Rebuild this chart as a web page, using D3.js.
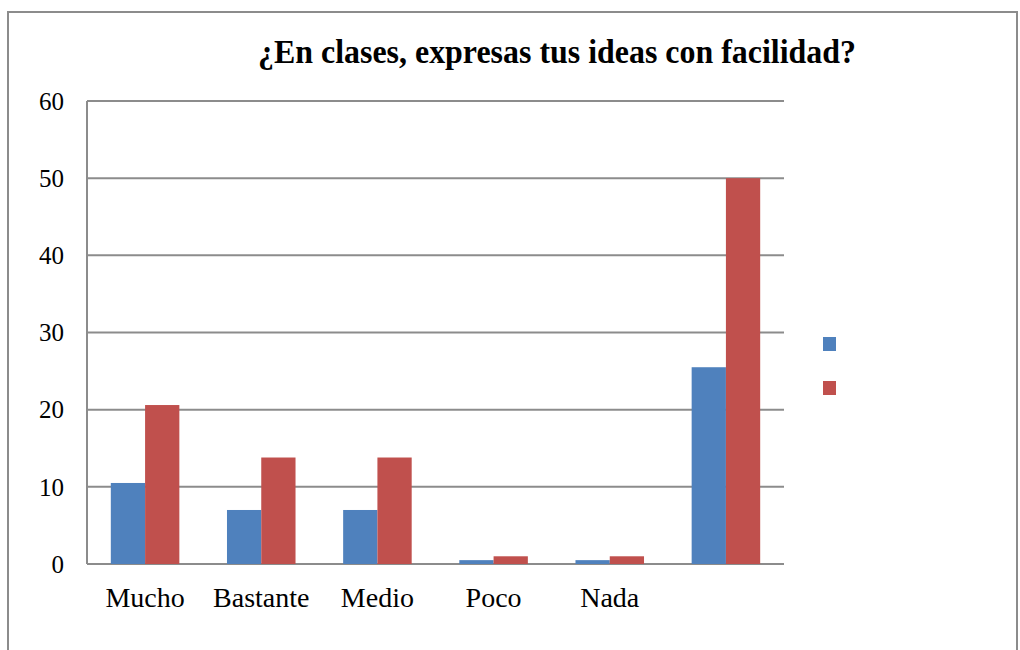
<!DOCTYPE html>
<html>
<head>
<meta charset="utf-8">
<script src="https://cdn.jsdelivr.net/npm/d3@7"></script>
<style>
  body { margin: 0; background: #fff; }
  text { font-family: "Liberation Serif", "Times New Roman", serif; fill: #000; }
</style>
</head>
<body>
<svg id="main" width="1020" height="650"></svg>
<script>
const width = 1020
const height = 650

const title = '¿En clases, expresas tus ideas con facilidad?'
const categories = ['Mucho', 'Bastante', 'Medio', 'Poco', 'Nada', '']
const seriesNames = ['', '']
const seriesA = [10.5, 7, 7, 0.5, 0.5, 25.5]
const seriesB = [20.6, 13.8, 13.8, 1, 1, 50]
const yTicks = [0, 10, 20, 30, 40, 50, 60]

const colors = ['#4f81bd', '#c0504d']

const svg = d3.select('#main')

// outer frame
svg.append('rect')
  .attr('x', 8).attr('y', 12)
  .attr('width', 1009).attr('height', 700)
  .attr('fill', 'none')
  .attr('stroke', '#8c8c8c')
  .attr('stroke-width', 2)

const margin = {left: 87, top: 101, right: 784, bottom: 564}

const x = d3.scaleBand()
  .domain(categories.map((d, i) => i))
  .range([margin.left, margin.right])
  .paddingInner(0.41)
  .paddingOuter(0.205)

const xSub = d3.scaleBand()
  .domain([0, 1])
  .range([0, x.bandwidth()])

const y = d3.scaleLinear()
  .domain([0, 60])
  .range([margin.bottom, margin.top])

// gridlines
svg.append('g')
  .selectAll('line')
  .data(yTicks)
  .join('line')
  .attr('x1', margin.left)
  .attr('x2', margin.right)
  .attr('y1', d => y(d))
  .attr('y2', d => y(d))
  .attr('stroke', '#8c8c8c')
  .attr('stroke-width', 2)

// y axis labels
svg.append('g')
  .selectAll('text')
  .data(yTicks)
  .join('text')
  .attr('x', 64)
  .attr('y', d => y(d))
  .attr('dy', '0.35em')
  .attr('text-anchor', 'end')
  .attr('font-size', 25)
  .text(d => d)

// bars
const series = [seriesA, seriesB]
series.forEach((values, s) => {
  svg.append('g')
    .selectAll('rect')
    .data(values)
    .join('rect')
    .attr('x', (d, i) => x(i) + xSub(s))
    .attr('y', d => y(d))
    .attr('width', xSub.bandwidth())
    .attr('height', d => y(0) - y(d))
    .attr('fill', colors[s])
})

// left axis line
svg.append('line')
  .attr('x1', margin.left).attr('x2', margin.left)
  .attr('y1', margin.top).attr('y2', margin.bottom)
  .attr('stroke', '#8c8c8c')
  .attr('stroke-width', 2)

// x labels
svg.append('g')
  .selectAll('text')
  .data(categories)
  .join('text')
  .attr('x', (d, i) => x(i) + x.bandwidth() / 2)
  .attr('y', 607)
  .attr('text-anchor', 'middle')
  .attr('font-size', 28)
  .text(d => d)

// legend
const legend = svg.append('g').attr('transform', 'translate(823, 337)')
seriesNames.forEach((name, i) => {
  const row = legend.append('g').attr('transform', `translate(0, ${i * 44})`)
  row.append('rect')
    .attr('width', 13).attr('height', 14)
    .attr('fill', colors[i])
  row.append('text')
    .attr('x', 22).attr('y', 7).attr('dy', '0.35em')
    .attr('font-size', 25)
    .text(name)
})

// title
svg.append('text')
  .attr('x', 557)
  .attr('y', 63)
  .attr('text-anchor', 'middle')
  .attr('font-size', 34)
  .attr('font-weight', 'bold')
  .attr('textLength', 598)
  .attr('lengthAdjust', 'spacingAndGlyphs')
  .text(title)
</script>
</body>
</html>
